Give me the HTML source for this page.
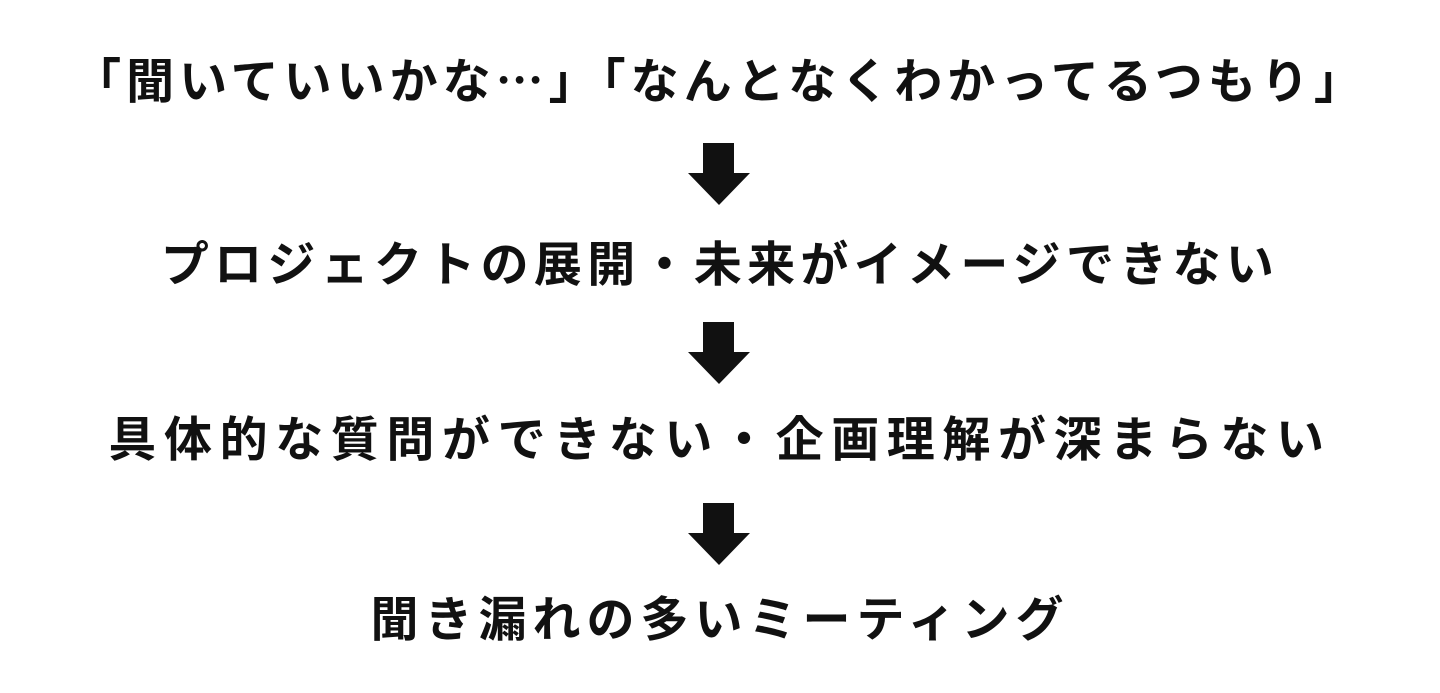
<!DOCTYPE html>
<html><head><meta charset="utf-8"><style>
body{margin:0;width:1440px;height:693px;background:#fff;position:relative;overflow:hidden}
.t{position:absolute;left:0;width:1440px;text-align:center;font-family:"Liberation Sans","Noto Sans CJK JP",sans-serif;font-weight:bold;font-size:48px;line-height:60px;color:#111;white-space:nowrap}
.j{font-family:"Noto Sans CJK JP",sans-serif}
svg{position:absolute;left:0;top:0}
</style></head><body>
<div class="t" style="top:47px;letter-spacing:5px"><span class="j">「聞いていいかな…」「なんとなくわかってるつもり」</span></div>
<div class="t" style="top:236px;letter-spacing:5.3px">プロジェクトの展開・未来がイメージできない</div>
<div class="t" style="top:411px;letter-spacing:7.6px">具体的な質問ができない・企画理解が深まらない</div>
<div class="t" style="top:591px;letter-spacing:6px">聞き漏れの多いミーティング</div>
<svg width="1440" height="693">
<g fill="#111">
<polygon points="703,143 734,143 734,173 750,173 719,205 688,173 703,173"/>
<polygon points="703,322 734,322 734,352 750,352 719,384 688,352 703,352"/>
<polygon points="703,503 734,503 734,533 750,533 719,565 688,533 703,533"/>
</g></svg>
</body></html>
